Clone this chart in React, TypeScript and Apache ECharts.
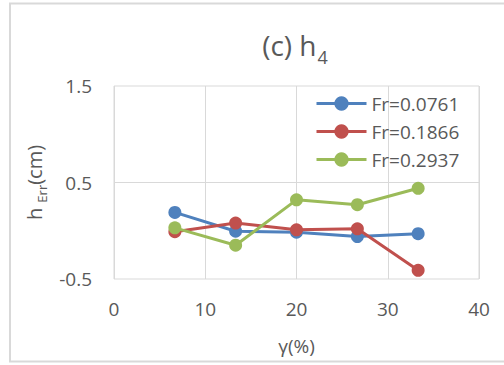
import React, { useEffect, useRef } from "react";
import * as echarts from "echarts";

const gammaPct = [6.67, 13.33, 20, 26.67, 33.33];
const fr0761 = [0.19, -0.005, -0.015, -0.06, -0.03];
const fr1866 = [-0.01, 0.08, 0.01, 0.02, -0.41];
const fr2937 = [0.03, -0.15, 0.32, 0.27, 0.44];
const seriesNames = ["Fr=0.0761", "Fr=0.1866", "Fr=0.2937"];
const seriesColors = ["#4F81BD", "#C0504D", "#9BBB59"];
const yLabelValues = [-0.5, 0.5, 1.5];

const FONT = "'Open Sans', 'Liberation Sans', sans-serif";
const TXT = "#595959";

export default function App() {
  const ref = useRef<HTMLDivElement>(null);
  useEffect(() => {
    if (!ref.current) return;
    const chart = echarts.init(ref.current, null, { renderer: "svg" });
    const values = [fr0761, fr1866, fr2937];
    const series: any[] = values.map((vals, i) => ({
      name: seriesNames[i],
      type: "line",
      data: gammaPct.map((x, j) => [x, vals[j]]),
      symbol: "circle",
      symbolSize: 13,
      lineStyle: { width: 3, color: seriesColors[i] },
      itemStyle: { color: seriesColors[i] },
      z: 3 + i,
    }));
    series[0].markLine = {
      silent: true,
      symbol: "none",
      label: { show: false },
      lineStyle: { color: "#D9D9D9", width: 1, type: "solid" },
      data: [{ yAxis: 0.5 }],
      z: 1,
    };
    chart.setOption({
      animation: false,
      textStyle: { fontFamily: FONT },
      graphic: [
        {
          type: "rect",
          shape: { x: 10, y: 3.5, width: 500, height: 358 },
          style: { fill: "none", stroke: "#D9D9D9", lineWidth: 2 },
          silent: true,
        },
      ],
      title: {
        text: "{a|(c) h}{b|4}",
        left: 290,
        top: 20,
        textAlign: "center",
        textStyle: {
          fontWeight: "normal",
          rich: {
            a: { fontFamily: FONT, fontSize: 28, fontWeight: "normal", color: TXT, lineHeight: 34, verticalAlign: "bottom" },
            b: { fontFamily: FONT, fontSize: 18, fontWeight: "normal", color: TXT, lineHeight: 18, verticalAlign: "bottom", padding: [0, 0, -7, 1] },
          },
        },
      },
      legend: {
        orient: "vertical",
        left: 310,
        top: 89,
        itemWidth: 50,
        itemHeight: 18,
        itemGap: 9,
        data: seriesNames,
        lineStyle: { width: 3 },
        textStyle: { color: TXT, fontSize: 19, fontFamily: FONT },
      },
      grid: {
        left: 114,
        right: 25,
        top: 86,
        bottom: 86,
        show: true,
        borderColor: "#D9D9D9",
        borderWidth: 1,
      },
      xAxis: {
        type: "value",
        min: 0,
        max: 40,
        interval: 10,
        name: "γ(%)",
        nameLocation: "middle",
        nameGap: 57,
        nameTextStyle: { color: TXT, fontSize: 19, fontFamily: FONT },
        axisLine: { show: false },
        axisTick: { show: false },
        axisLabel: { color: TXT, fontSize: 19, margin: 20, fontFamily: FONT },
        splitLine: { show: true, lineStyle: { color: "#D9D9D9", width: 1 } },
      },
      yAxis: {
        type: "value",
        min: -0.5,
        max: 1.5,
        interval: 0.5,
        name: "{a|h }{b|Err}{a|(cm)}",
        nameLocation: "middle",
        nameGap: 64,
        nameTextStyle: {
          rich: {
            a: { fontFamily: FONT, fontSize: 20, color: TXT, lineHeight: 24, verticalAlign: "bottom" },
            b: { fontFamily: FONT, fontSize: 13, color: TXT, lineHeight: 13, verticalAlign: "bottom", padding: [0, 0, -4, 0] },
          },
        },
        axisLine: { show: false },
        axisTick: { show: false },
        splitLine: { show: false },
        axisLabel: {
          color: TXT,
          fontSize: 19,
          margin: 22,
          fontFamily: FONT,
          formatter: (v: number) =>
            yLabelValues.some((t) => Math.abs(t - v) < 1e-9) ? String(v) : "",
        },
      },
      series,
    });
    return () => chart.dispose();
  }, []);
  return (
    <div
      ref={ref}
      style={{ position: "fixed", left: 0, top: 0, width: 504, height: 365, background: "#fff" }}
    />
  );
}
